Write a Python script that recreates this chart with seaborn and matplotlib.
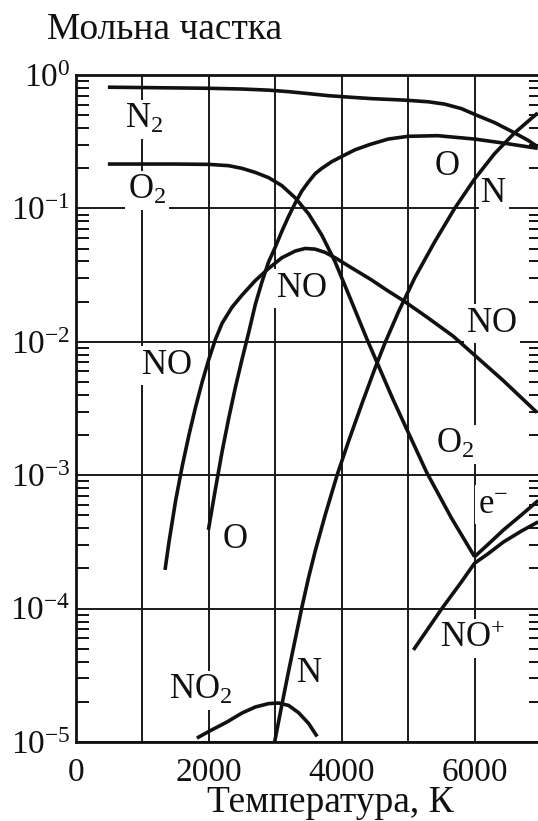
import matplotlib
matplotlib.use("Agg")
import numpy as np
import pandas as pd
import matplotlib.pyplot as plt
import seaborn as sns
from matplotlib.ticker import LogLocator, FuncFormatter, NullFormatter

# Equilibrium composition of air vs temperature: temperature (K) and mole fraction
T_N2 = [480, 1000, 1500, 2000, 2500, 2900, 3200, 3500, 3800, 4100, 4450, 4950, 5300, 5550, 5800,
        6050, 6300, 6550, 6800, 6950]
X_N2 = [0.81, 0.805, 0.80, 0.795, 0.785, 0.77, 0.75, 0.725, 0.70, 0.683, 0.665, 0.648, 0.63, 0.605,
        0.56, 0.495, 0.44, 0.38, 0.325, 0.29]

T_O2 = [480, 1000, 1500, 2000, 2300, 2500, 2700, 2900, 3100, 3300, 3500, 3700, 3900, 4100, 4380,
        4770, 5280, 5650, 6000]
X_O2 = [0.215, 0.215, 0.215, 0.2138, 0.209, 0.1995, 0.186, 0.170, 0.148, 0.120, 0.0912, 0.0631,
        0.0398, 0.0229, 0.01047, 0.00372, 0.001047, 4.79e-4, 2.45e-4]

T_O = [1993, 2100, 2200, 2300, 2400, 2500, 2600, 2700, 2800, 2900, 3000, 3100, 3200, 3300, 3400,
       3500, 3600, 3700, 3850, 4000, 4200, 4430, 4700, 5000, 5440, 6000, 6430, 6950]
X_O = [3.89e-4, 7.94e-4, 1.51e-3, 2.69e-3, 4.57e-3, 7.41e-3, 0.01175, 0.0191, 0.0282, 0.0398,
       0.0513, 0.0676, 0.0871, 0.1096, 0.135, 0.158, 0.182, 0.1995, 0.224, 0.245, 0.275, 0.302,
       0.331, 0.347, 0.351, 0.331, 0.309, 0.282]

T_N = [2990, 3100, 3200, 3300, 3400, 3500, 3600, 3750, 3930, 4100, 4300, 4500, 4650, 4850, 5100,
       5400, 5700, 6000, 6300, 6600, 6950]
X_N = [1.0e-5, 1.91e-5, 3.39e-5, 5.89e-5, 1.02e-4, 1.70e-4, 2.69e-4, 5.01e-4, 1.0e-3, 1.78e-3,
       3.39e-3, 6.31e-3, 9.77e-3, 0.0166, 0.0302, 0.0562, 0.100, 0.166, 0.257, 0.367, 0.519]

T_NO = [1340, 1400, 1500, 1600, 1700, 1800, 1900, 2000, 2100, 2200, 2350, 2500, 2700, 2900, 3100,
        3300, 3450, 3600, 3750, 3900, 4130, 4430, 4700, 4925, 5300, 5680, 6000, 6430, 6940]
X_NO = [1.95e-4, 3.16e-4, 6.46e-4, 1.175e-3, 2.0e-3, 3.24e-3, 5.01e-3, 7.41e-3, 0.01047, 0.0138,
        0.0182, 0.0224, 0.0288, 0.0355, 0.0427, 0.0479, 0.0501, 0.0495, 0.0468, 0.0427, 0.0363,
        0.0295, 0.024, 0.0204, 0.0151, 0.0110, 0.00794, 0.00513, 0.00295]

T_NO2 = [1820, 2000, 2270, 2500, 2700, 2900, 3050, 3200, 3350, 3500, 3630]
X_NO2 = [1.07e-5, 1.2e-5, 1.41e-5, 1.65e-5, 1.83e-5, 1.94e-5, 1.96e-5, 1.88e-5, 1.66e-5, 1.38e-5,
         1.10e-5]

T_NOp = [5080, 5507, 5800, 6000, 6200, 6436, 6700, 6958]
X_NOp = [4.90e-5, 1.0e-4, 1.58e-4, 2.19e-4, 2.57e-4, 3.16e-4, 3.80e-4, 4.47e-4]

T_e = [6000, 6200, 6436, 6700, 6958]
X_e = [2.45e-4, 3.02e-4, 3.89e-4, 5.01e-4, 6.46e-4]

x_ticks = [0, 1000, 2000, 3000, 4000, 5000, 6000, 7000]
x_tick_labels = ["0", "", "2000", "", "4000", "", "6000", ""]

series = {
    "N2": (T_N2, X_N2), "O2": (T_O2, X_O2), "O": (T_O, X_O), "N": (T_N, X_N),
    "NO": (T_NO, X_NO), "NO2": (T_NO2, X_NO2), "NO+": (T_NOp, X_NOp), "e-": (T_e, X_e),
}
df = pd.concat(
    [pd.DataFrame({"T": t, "X": x, "species": k}) for k, (t, x) in series.items()],
    ignore_index=True,
)

sns.set_theme(style="white")
plt.rcParams["font.family"] = ["Liberation Serif", "DejaVu Serif"]
plt.rcParams["mathtext.default"] = "regular"

FS_TICK = 24
FS_TEXT = 27
FS_CURVE = 25
INK = "#111111"

fig = plt.figure(figsize=(5.38, 8.21), dpi=100)
ax = fig.add_axes([76 / 538, 1 - 742 / 821, 465 / 538, 667 / 821])
ax.set_yscale("log")

sns.lineplot(data=df, x="T", y="X", hue="species",
             palette={k: INK for k in series}, estimator=None, sort=False,
             linewidth=2.6, legend=False, ax=ax, zorder=3)
for ln in ax.get_lines():
    ln.set_solid_joinstyle("round")
    ln.set_solid_capstyle("butt")

ax.set_xlim(0, 7000)
ax.set_ylim(1e-5, 1)

# grid and frame
ax.set_axisbelow(True)
ax.grid(True, which="major", axis="both", color="#1a1a1a", linewidth=1.4)
for s in ax.spines.values():
    s.set_color(INK)
    s.set_linewidth(2.0)

ax.set_xticks(x_ticks)
ax.set_xticklabels(x_tick_labels)
ax.tick_params(axis="x", which="both", length=0, pad=11, labelsize=FS_TICK, colors=INK)

ax.yaxis.set_major_locator(LogLocator(base=10, numticks=10))
ax.yaxis.set_minor_locator(LogLocator(base=10, subs=np.arange(2, 10), numticks=20))
ax.yaxis.set_major_formatter(FuncFormatter(lambda v, p: f"10$^{{{int(round(np.log10(v)))}}}$"))
ax.yaxis.set_minor_formatter(NullFormatter())
ax.tick_params(axis="y", which="major", length=0, pad=4, labelsize=FS_TICK, colors=INK)
ax.tick_params(axis="y", which="minor", direction="in", length=9, width=1.4,
               left=True, right=True, colors=INK)

ax.set_xlabel("Температура, К", fontsize=FS_TEXT, color=INK)
ax.xaxis.set_label_coords((330 - 76) / 465, -(812 - 742) / 667)
ax.xaxis.label.set_va("baseline")
ax.set_ylabel("")

fig.text(47 / 538, 1 - 39 / 821, "Мольна частка", ha="left", va="baseline",
         fontsize=FS_TEXT, color=INK)

# curve labels
box = dict(facecolor="white", edgecolor="none", pad=2)
labels = [
    (1024, 0.40, "N$_2$"),
    (1069, 0.1175, "O$_2$"),
    (1370, 5.74e-3, "NO"),
    (2394, 2.85e-4, "O"),
    (3402, 0.0217, "NO"),
    (5585, 0.178, "O"),
    (6292, 0.1117, "N"),
    (6262, 0.0118, "NO"),
    (5705, 1.47e-3, "O$_2$"),
    (6277, 5.21e-4, "e$^{-}$"),
    (5976, 5.15e-5, "NO$^{+}$"),
    (3522, 2.82e-5, "N"),
    (1881, 2.1e-5, "NO$_2$"),
]
for t, x, s in labels:
    ax.text(t, x, s, ha="center", va="baseline", fontsize=FS_CURVE, color=INK,
            bbox=box, zorder=2.5)

fig.savefig("out.png", dpi=100)
